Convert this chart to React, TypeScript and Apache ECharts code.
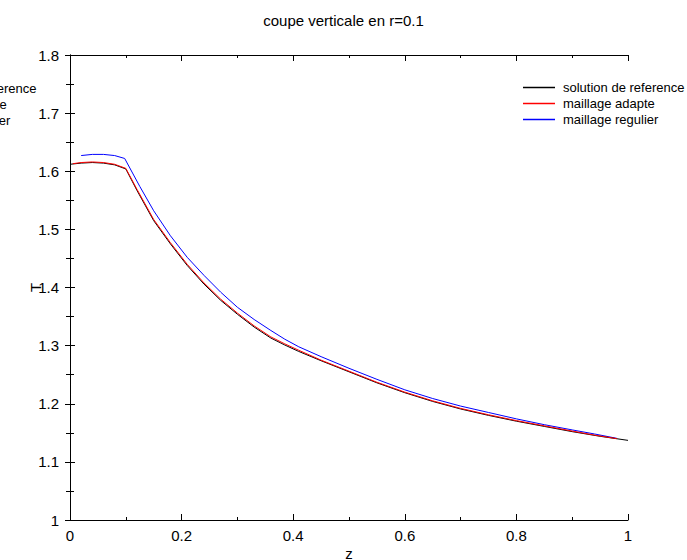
import React, { useEffect, useRef } from "react";
import * as echarts from "echarts";

const titleText = "coupe verticale en r=0.1";
const seriesNames = ["solution de reference", "maillage adapte", "maillage regulier"];
const seriesColors = ["#000000", "#ff0000", "#0000ff"];

const zRef = [0, 0.02, 0.04, 0.06, 0.08, 0.1, 0.12, 0.15, 0.18, 0.21, 0.24, 0.27, 0.3, 0.33, 0.36, 0.385, 0.41, 0.45, 0.5, 0.55, 0.6, 0.65, 0.7, 0.75, 0.8, 0.85, 0.9, 0.95, 1.0];
const tRef = [1.612, 1.614, 1.615, 1.614, 1.611, 1.604, 1.567, 1.515, 1.475, 1.438, 1.406, 1.378, 1.354, 1.332, 1.313, 1.301, 1.29, 1.274, 1.255, 1.236, 1.219, 1.204, 1.191, 1.18, 1.17, 1.161, 1.152, 1.144, 1.137];

const zAdapt = [0.005, 0.02, 0.04, 0.06, 0.08, 0.1, 0.12, 0.15, 0.18, 0.21, 0.24, 0.27, 0.3, 0.33, 0.36, 0.385, 0.41, 0.45, 0.5, 0.55, 0.6, 0.65, 0.7, 0.75, 0.8, 0.85, 0.9, 0.94, 0.98];
const tAdapt = [1.613, 1.615, 1.616, 1.615, 1.612, 1.605, 1.569, 1.517, 1.477, 1.44, 1.408, 1.38, 1.356, 1.334, 1.315, 1.303, 1.292, 1.275, 1.256, 1.237, 1.22, 1.205, 1.192, 1.181, 1.171, 1.162, 1.153, 1.146, 1.14];

const zReg = [0.02, 0.04, 0.06, 0.08, 0.098, 0.125, 0.15, 0.18, 0.21, 0.24, 0.27, 0.3, 0.33, 0.36, 0.385, 0.41, 0.45, 0.5, 0.55, 0.6, 0.65, 0.7, 0.75, 0.8, 0.85, 0.9, 0.94, 0.98];
const tReg = [1.627, 1.629, 1.629, 1.627, 1.622, 1.574, 1.532, 1.489, 1.452, 1.421, 1.392, 1.366, 1.345, 1.326, 1.311, 1.298, 1.281, 1.261, 1.242, 1.224, 1.209, 1.196, 1.185, 1.174, 1.164, 1.155, 1.148, 1.1405];

const xName = "z";
const yName = "T";

const FONT = "Liberation Sans, Arial, sans-serif";

function pairs(xs: number[], ys: number[]) {
  return xs.map((x, i) => [x, ys[i]]);
}

export default function App() {
  const ref = useRef<HTMLDivElement>(null);
  useEffect(() => {
    if (!ref.current) return;
    const chart = echarts.init(ref.current, undefined, { renderer: "svg" });
    const tickLabel = { fontSize: 15, color: "#000", fontFamily: FONT };
    const axisLine = { show: true, lineStyle: { color: "#000", width: 1 } };
    const fmt = (v: number) => String(+v.toFixed(2));
    const datasets = [pairs(zRef, tRef), pairs(zAdapt, tAdapt), pairs(zReg, tReg)];
    chart.setOption({
      animation: false,
      textStyle: { fontFamily: FONT },
      title: {
        text: titleText,
        left: "center",
        top: 8,
        textStyle: { fontSize: 15, fontWeight: "normal", color: "#000", fontFamily: FONT },
      },
      grid: {
        left: 70,
        right: 59,
        top: 55,
        bottom: 40,
        containLabel: false,
        outerBoundsMode: "none",
      },
      legend: {
        orient: "vertical",
        left: 523,
        top: 81,
        padding: 0,
        itemWidth: 32,
        itemHeight: 1.5,
        itemGap: 3,
        icon: "rect",
        data: seriesNames.map((n, i) => ({ name: n, itemStyle: { color: seriesColors[i] } })),
        textStyle: { fontSize: 13, color: "#000", fontFamily: FONT, padding: [0, 0, 0, 3] },
      },
      graphic: seriesNames.map((n, i) => ({
        type: "text",
        left: -85,
        top: 82 + i * 16,
        style: { text: n, fontSize: 13, fill: "#000", fontFamily: FONT },
        silent: true,
      })),
      xAxis: [
        {
          type: "value",
          min: 0,
          max: 1,
          interval: 0.2,
          position: "bottom",
          name: xName,
          nameLocation: "middle",
          nameGap: 26,
          nameMoveOverlap: false,
          nameTextStyle: { fontSize: 15, color: "#000", fontFamily: FONT },
          axisLine,
          axisTick: { show: true, inside: true, length: 6, lineStyle: { color: "#000" } },
          minorTick: { show: true, splitNumber: 2, length: 3, lineStyle: { color: "#000" } },
          axisLabel: { ...tickLabel, margin: 8, formatter: fmt },
          splitLine: { show: false },
        },
        {
          type: "value",
          min: 0,
          max: 1,
          interval: 0.2,
          position: "top",
          axisLine,
          axisTick: { show: true, inside: true, length: 6, lineStyle: { color: "#000" } },
          minorTick: { show: true, splitNumber: 2, length: 3, lineStyle: { color: "#000" } },
          axisLabel: { show: false },
          splitLine: { show: false },
        },
      ],
      yAxis: [
        {
          type: "value",
          min: 1,
          max: 1.8,
          interval: 0.1,
          position: "left",
          name: yName,
          nameLocation: "middle",
          nameGap: 27,
          nameMoveOverlap: false,
          nameTextStyle: { fontSize: 15, color: "#000", fontFamily: FONT },
          axisLine,
          axisTick: { show: true, inside: true, length: 5, lineStyle: { color: "#000" } },
          minorTick: { show: true, splitNumber: 2, length: 4, lineStyle: { color: "#000" } },
          axisLabel: { ...tickLabel, margin: 11, formatter: fmt },
          splitLine: { show: false },
        },
        {
          type: "value",
          min: 1,
          max: 1.8,
          interval: 0.1,
          position: "right",
          axisLine,
          axisTick: { show: true, inside: true, length: 5, lineStyle: { color: "#000" } },
          minorTick: { show: true, splitNumber: 2, length: 4, lineStyle: { color: "#000" } },
          axisLabel: { show: false },
          splitLine: { show: false },
        },
      ],
      series: seriesNames.map((n, i) => ({
        name: n,
        type: "line",
        xAxisIndex: 0,
        yAxisIndex: 0,
        data: datasets[i],
        showSymbol: false,
        symbol: "none",
        smooth: false,
        color: seriesColors[i],
        itemStyle: { color: seriesColors[i] },
        lineStyle: { color: seriesColors[i], width: 1 },
        z: i === 2 ? 1 : 2 + i,
      })),
    });
    return () => chart.dispose();
  }, []);
  return (
    <div
      ref={ref}
      style={{ position: "absolute", left: 0, top: 0, width: 687, height: 560 }}
    />
  );
}
